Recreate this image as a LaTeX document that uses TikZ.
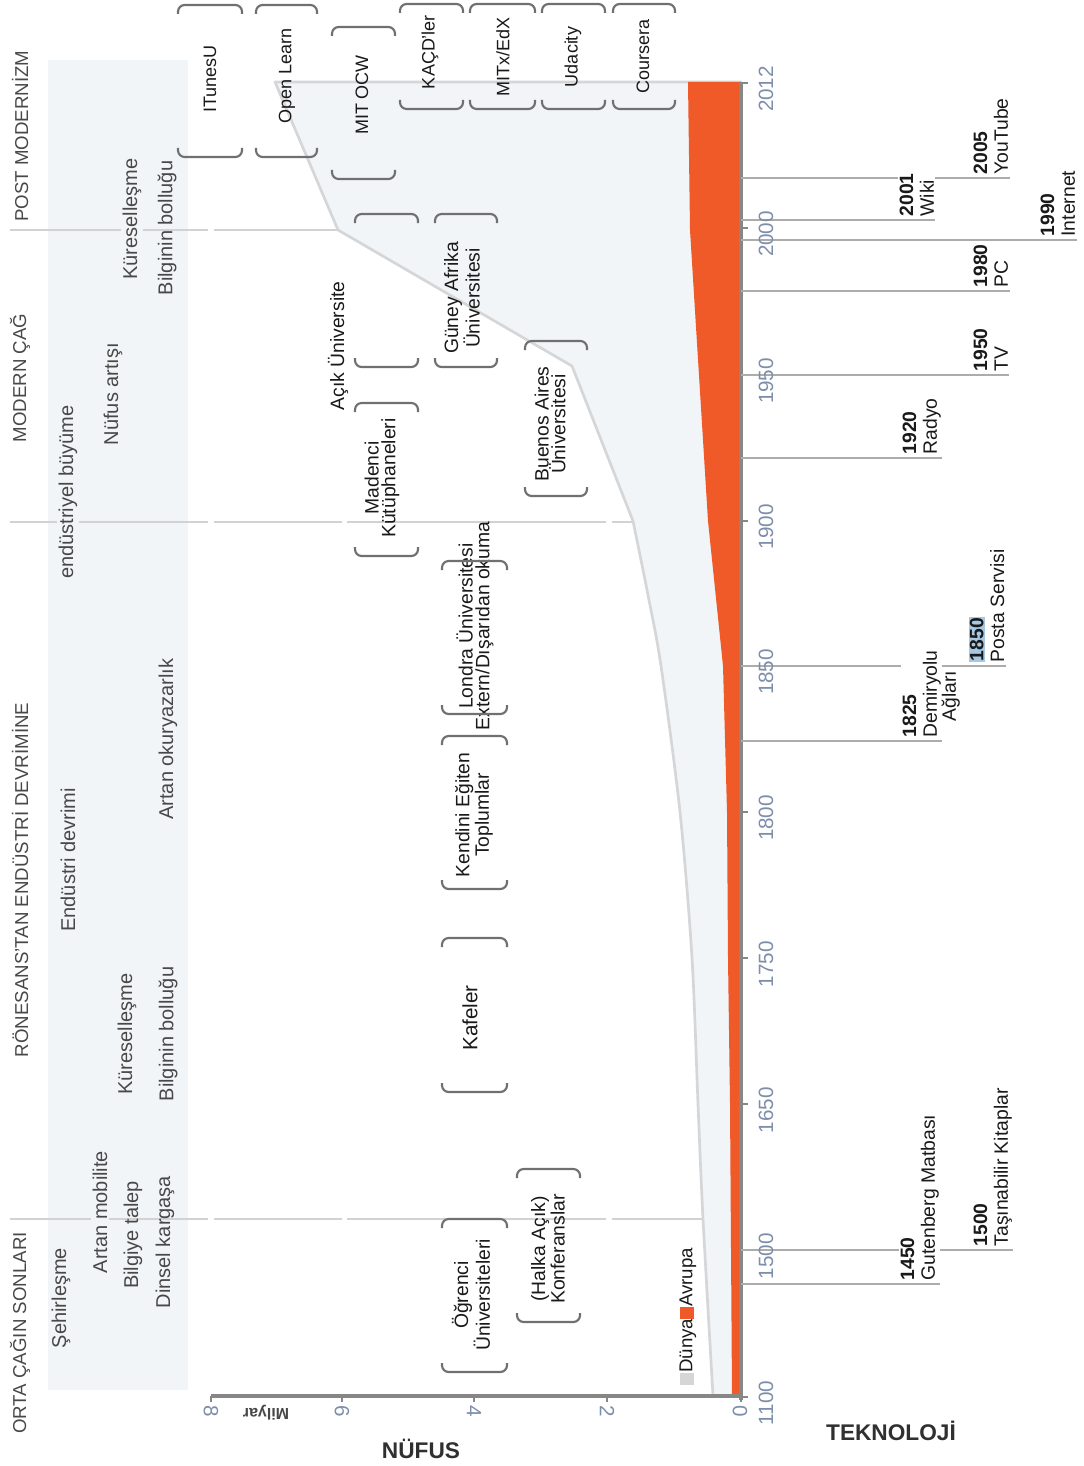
\documentclass[tikz,border=0pt]{standalone}
\usepackage{fontspec}
\setmainfont{Liberation Sans}
\usepackage[usenames,dvipsnames]{xcolor}
\usepackage{tikz}
\usetikzlibrary{backgrounds}
\setlength{\fboxsep}{1pt}

\definecolor{orng}{RGB}{240,90,40}
\definecolor{worldfill}{RGB}{241,245,247}
\definecolor{worldline}{RGB}{212,214,216}
\definecolor{bandfill}{RGB}{242,245,247}
\definecolor{sepgray}{RGB}{210,210,210}
\definecolor{axisgray}{RGB}{135,135,135}
\definecolor{brkgray}{RGB}{112,112,112}
\definecolor{techline}{RGB}{172,172,172}
\definecolor{yeartxt}{RGB}{125,142,170}
\definecolor{erat}{RGB}{72,72,72}
\definecolor{darktxt}{RGB}{25,25,25}
\definecolor{hlblue}{RGB}{166,200,226}

\tikzset{
  era/.style={rotate=90, text=erat, font=\fontsize{14}{16}\selectfont},
  band/.style={rotate=90, text=erat, inner sep=1pt, font=\fontsize{15}{17}\selectfont},
  bandgap/.style={band, fill=bandfill},
  mooc/.style={rotate=90, text=darktxt, font=\fontsize{13.5}{15}\selectfont},
  inst/.style={rotate=90, text=darktxt, align=center, font=\fontsize{14.5}{12.5}\selectfont},
  brk/.style={draw=brkgray, line width=1.6pt, rounded corners=5pt},
  sep/.style={draw=sepgray, line width=2pt},
  tech/.style={rotate=90, anchor=north west, align=left, fill=white, inner sep=1pt, text=darktxt, font=\fontsize{14.5}{15.5}\selectfont},
  tline/.style={draw=techline, line width=1.8pt},
  yr/.style={rotate=90, text=yeartxt, font=\fontsize{15.5}{17}\selectfont},
  pop/.style={rotate=-90, text=yeartxt, font=\fontsize{15.5}{17}\selectfont},
  axtitle/.style={text=darktxt!90, font=\fontsize{17}{19}\selectfont\bfseries}
}

\begin{document}
\begin{tikzpicture}[x=0.75pt, y=-0.75pt]
  \useasboundingbox (0,0) rectangle (1084,1466);

  \begin{scope}[on background layer]
    \fill[white] (0,0) rectangle (1084,1466);
    \fill[bandfill] (48,60) rectangle (188,1390);
    \draw[sep] (10,230) -- (208,230) (214,230) -- (338,230);
    \draw[sep] (10,522) -- (208,522) (214,522) -- (342,522) (347,522) -- (606,522) (612,522) -- (633,522);
    \draw[sep] (10,1219) -- (208,1219) (214,1219) -- (342,1219) (347,1219) -- (606,1219) (612,1219) -- (703,1219);
    \filldraw[fill=worldfill, draw=worldline, line width=2pt, line join=round]
      (741,82) -- (275,82) -- (338,230) -- (572,366) -- (633,521)
      -- plot[smooth] coordinates {(633,521) (648,595) (661,666) (680,812) (692,958) (698,1104) (703,1219) (713,1396)}
      -- (741,1396) -- cycle;
    \fill[orng] (741,82) -- (688,82) -- (690,230) -- (708,521) -- (723,666) -- (727,812)
      -- (728,958) -- (730,1104) -- (731,1250) -- (732,1396) -- (741,1396) -- cycle;
    \draw[axisgray, line width=3pt] (741,82) -- (741,1400);
    \draw[axisgray, line width=2.5pt] (211,1396) -- (742,1396);
    \draw[axisgray, line width=2pt] (211,1396) -- (211,1402) (342,1396) -- (342,1402) (474,1396) -- (474,1402)
      (607,1396) -- (607,1402) (741,1396) -- (741,1402);
    \draw[axisgray, line width=2pt] (741,1397) -- (748,1397) (741,1250) -- (748,1250) (741,1104) -- (748,1104)
      (741,958) -- (748,958) (741,812) -- (748,812) (741,666) -- (748,666) (741,521) -- (748,521)
      (741,375) -- (748,375) (741,228) -- (748,228) (741,83) -- (748,83);
  \end{scope}

  \draw (20,136) node[era] (post) {POST MODERNİZM};
  \draw (20,378) node[era] (modern) {MODERN ÇAĞ};
  \draw (20,880) node[era] (ronesans) {RÖNESANS’TAN ENDÜSTRİ DEVRİMİNE};
  \draw (20,1333) node[era] (ortacag) {ORTA ÇAĞIN SONLARI};

  \draw (132,219) node[bandgap] (kuresel) {Küreselleşme};
  \draw (167,228) node[band] (bilgi) {Bilginin bolluğu};
  \draw (113,394) node[band] (nufusart) {Nüfus artışı};
  \draw (68,492) node[bandgap] (endbuyume) {endüstriyel büyüme};
  \draw (68,860) node[band] (enddevrim) {Endüstri devrimi};
  \draw (168,739) node[band] (okuryazar) {Artan okuryazarlık};
  \draw (127,1034) node[band] (kuresel2) {Küreselleşme};
  \draw (168,1034) node[band] (bilgi2) {Bilginin bolluğu};
  \draw (100,1212) node[bandgap] (mobilite) {Artan mobilite};
  \draw (61,1298) node[band] (sehir) {Şehirleşme};
  \draw (133,1235) node[band] (talep) {Bilgiye talep};
  \draw (165,1242) node[band] (dinsel) {Dinsel kargaşa};

  \draw (210,79) node[mooc] (itunesu) {ITunesU};
  \draw (287,76) node[mooc] (openlearn) {Open Learn};
  \draw (362,95) node[mooc] (mitocw) {MIT OCW};
  \draw (430,52) node[mooc] (kacd) {KAÇD’ler};
  \draw (503,57) node[mooc] (mitx) {MITx/EdX};
  \draw (573,57) node[mooc] (udacity) {Udacity};
  \draw (643,56) node[mooc] (coursera) {Coursera};
  \draw (338,346) node[inst] (acik) {Açık Üniversite};
  \draw (462,298) node[inst] (guney) {Güney Afrika\\Üniversitesi};
  \draw (550,424) node[inst] (buenos) {Buenos Aires\\Üniversitesi};
  \draw (382,478) node[inst] (madenci) {Madenci\\Kütüphaneleri};
  \draw (475,626) node[inst] (londra) {Londra Üniversitesi\\Extern/Dışarıdan okuma};
  \draw (474,815) node[inst] (kendini) {Kendini Eğiten\\Toplumlar};
  \draw (470,1018) node[inst, font=\fontsize{15.5}{17}\selectfont] (kafeler) {Kafeler};
  \draw (471,1295) node[inst] (ogrenci) {Öğrenci\\Üniversiteleri};
  \draw (548,1249) node[inst] (halka) {(Halka Açık)\\Konferanslar};

  \draw[brk] (178,14) -- (178,5) -- (242,5) -- (242,14) (178,148) -- (178,157) -- (242,157) -- (242,148);
  \draw[brk] (256,14) -- (256,5) -- (317,5) -- (317,14) (256,148) -- (256,157) -- (317,157) -- (317,148);
  \draw[brk] (332,36) -- (332,27) -- (395,27) -- (395,36) (332,170) -- (332,179) -- (395,179) -- (395,170);
  \draw[brk] (400,13) -- (400,4) -- (463,4) -- (463,13) (400,100) -- (400,109) -- (463,109) -- (463,100);
  \draw[brk] (470,13) -- (470,4) -- (535,4) -- (535,13) (470,100) -- (470,109) -- (535,109) -- (535,100);
  \draw[brk] (542,13) -- (542,4) -- (605,4) -- (605,13) (542,100) -- (542,109) -- (605,109) -- (605,100);
  \draw[brk] (613,13) -- (613,4) -- (675,4) -- (675,13) (613,100) -- (613,109) -- (675,109) -- (675,100);
  \draw[brk] (355,223) -- (355,214) -- (418,214) -- (418,223) (355,358) -- (355,367) -- (418,367) -- (418,358);
  \draw[brk] (435,223) -- (435,214) -- (497,214) -- (497,223) (435,358) -- (435,367) -- (497,367) -- (497,358);
  \draw[brk] (525,350) -- (525,341) -- (587,341) -- (587,350) (525,487) -- (525,496) -- (587,496) -- (587,487);
  \draw[brk] (355,412) -- (355,403) -- (418,403) -- (418,412) (355,547) -- (355,556) -- (418,556) -- (418,547);
  \draw[brk] (442,570) -- (442,561) -- (507,561) -- (507,570) (442,705) -- (442,714) -- (507,714) -- (507,705);
  \draw[brk] (442,745) -- (442,736) -- (507,736) -- (507,745) (442,880) -- (442,889) -- (507,889) -- (507,880);
  \draw[brk] (442,947) -- (442,938) -- (507,938) -- (507,947) (442,1083) -- (442,1092) -- (507,1092) -- (507,1083);
  \draw[brk] (442,1228) -- (442,1219) -- (507,1219) -- (507,1228) (442,1363) -- (442,1372) -- (507,1372) -- (507,1363);
  \draw[brk] (517,1178) -- (517,1169) -- (580,1169) -- (580,1178) (517,1313) -- (517,1322) -- (580,1322) -- (580,1313);

  \draw (688,1385) node[rotate=90, anchor=west, inner sep=0pt, text=darktxt, font=\fontsize{14}{16}\selectfont] (legend)
    {\textcolor{worldline}{\rule[-1.5pt]{9pt}{11pt}}Dünya\textcolor{orng}{\rule[-1.5pt]{9pt}{11pt}}Avrupa};

  \draw (766,1403) node[yr] (y1100) {1100};
  \draw (766,1256) node[yr] (y1500) {1500};
  \draw (766,1110) node[yr] (y1650) {1650};
  \draw (766,964) node[yr] (y1750) {1750};
  \draw (766,818) node[yr] (y1800) {1800};
  \draw (766,672) node[yr] (y1850) {1850};
  \draw (766,527) node[yr] (y1900) {1900};
  \draw (766,381) node[yr] (y1950) {1950};
  \draw (766,234) node[yr] (y2000) {2000};
  \draw (766,89) node[yr] (y2012) {2012};

  \draw (211,1411) node[pop] (p8) {8};
  \draw (342,1411) node[pop] (p6) {6};
  \draw (474,1411) node[pop] (p4) {4};
  \draw (607,1411) node[pop] (p2) {2};
  \draw (740,1411) node[pop] (p0) {0};
  \draw (266,1413) node[rotate=180, text=darktxt!80, font=\fontsize{12}{14}\selectfont\bfseries] (milyar) {Milyar};
  \draw (421,1449) node[axtitle] (nufus) {NÜFUS};
  \draw (891,1431) node[axtitle] (teknoloji) {TEKNOLOJİ};

  \coordinate (ax1450) at (741,1284);
  \coordinate (ax1500) at (741,1250);
  \coordinate (ax1825) at (741,741);
  \coordinate (ax1850) at (741,666);
  \coordinate (ax1920) at (741,458);
  \coordinate (ax1950) at (741,375);
  \coordinate (ax1980) at (741,291);
  \coordinate (ax1990) at (741,240);
  \coordinate (ax2001) at (741,220);
  \coordinate (ax2005) at (741,178);

  \draw (899,1282) node[tech] (t1450) {\textbf{1450}\\Gutenberg Matbası};
  \draw (972,1248) node[tech] (t1500) {\textbf{1500}\\Taşınabilir Kitaplar};
  \draw (901,739) node[tech] (t1825) {\textbf{1825}\\Demiryolu};
  \draw (940,723) node[tech, fill=none] (t1825b) {Ağları};
  \draw (967,664) node[tech] (t1850) {\colorbox{hlblue}{\textbf{1850}}\\Posta Servisi};
  \draw (901,456) node[tech] (t1920) {\textbf{1920}\\Radyo};
  \draw (972,373) node[tech] (t1950) {\textbf{1950}\\TV};
  \draw (972,289) node[tech] (t1980) {\textbf{1980}\\PC};
  \draw (1039,238) node[tech] (t1990) {\textbf{1990}\\Internet};
  \draw (898,218) node[tech] (t2001) {\textbf{2001}\\Wiki};
  \draw (972,176) node[tech] (t2005) {\textbf{2005}\\YouTube};

  \begin{scope}[on background layer]
    \path[tline] (ax1450) edge (ax1450 -| t1450.south west);
    \path[tline] (ax1500) edge (ax1500 -| t1500.south west);
    \path[tline] (ax1825) edge (ax1825 -| t1825.south west);
    \path[tline] (ax1850) edge (ax1850 -| t1850.south west);
    \path[tline] (ax1920) edge (ax1920 -| t1920.south west);
    \path[tline] (ax1950) edge (ax1950 -| t1950.south west);
    \path[tline] (ax1980) edge (ax1980 -| t1980.south west);
    \path[tline] (ax1990) edge (ax1990 -| t1990.south west);
    \path[tline] (ax2001) edge (ax2001 -| t2001.south west);
    \path[tline] (ax2005) edge (ax2005 -| t2005.south west);
  \end{scope}
\end{tikzpicture}
\end{document}
